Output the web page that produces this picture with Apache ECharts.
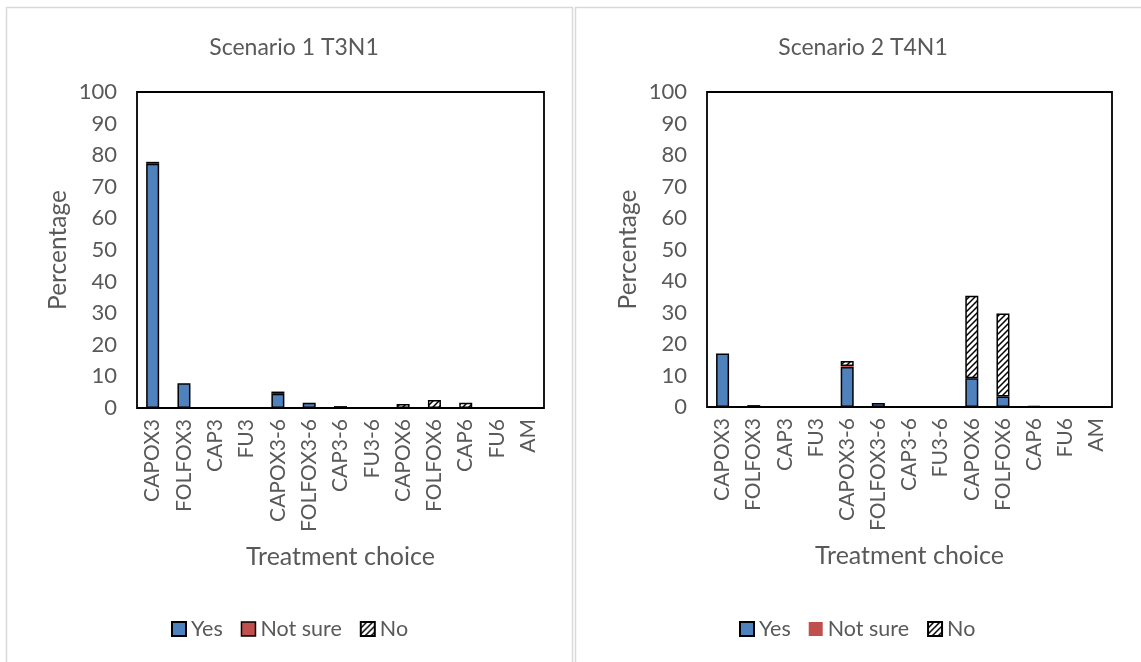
<!DOCTYPE html>
<html>
<head>
<meta charset="utf-8">
<script src="https://cdn.jsdelivr.net/npm/echarts@6/dist/echarts.min.js"></script>
<style>
  html, body { margin: 0; padding: 0; background: #fff; }
  #chart { width: 1141px; height: 662px; }
</style>
</head>
<body>
<div id="chart"></div>
<script>
// Treatment options on the category axis
const categories = ['CAPOX3', 'FOLFOX3', 'CAP3', 'FU3', 'CAPOX3-6', 'FOLFOX3-6', 'CAP3-6', 'FU3-6', 'CAPOX6', 'FOLFOX6', 'CAP6', 'FU6', 'AM'];

// Scenario 1 (T3N1) percentages
const s1Yes     = [77.3, 7.8, 0, 0, 4.5, 1.7, 0,   0, 0,   0,   0,   0, 0];
const s1NotSure = [0.6,  0,   0, 0, 0.7, 0,   0.6, 0, 0,   0,   0,   0, 0];
const s1No      = [0,    0,   0, 0, 0,   0,   0,   0, 1.3, 2.5, 1.7, 0, 0];

// Scenario 2 (T4N1) percentages
const s2Yes     = [17.0, 0.6, 0, 0, 12.7, 1.3, 0, 0, 9.1,  3.3,  0.3, 0, 0];
const s2NotSure = [0,    0,   0, 0, 0.3,  0,   0, 0, 0,    0,    0,   0, 0];
const s2No      = [0,    0,   0, 0, 1.6,  0,   0, 0, 26.2, 26.4, 0,   0, 0];

const seriesNames = ['Yes', 'Not sure', 'No'];
const titles = ['Scenario 1 T3N1', 'Scenario 2 T4N1'];
const yMin = 0, yMax = 100, yStep = 10;

const FONT = 'Lato, "Open Sans", sans-serif';
const GREY = '#595959';
const BLUE = '#4f81bd';
const RED = '#c0504d';

// White tile with black upward diagonal strokes
function hatchTile() {
  const c = document.createElement('canvas');
  c.width = 6; c.height = 6;
  const g = c.getContext('2d');
  g.fillStyle = '#fff';
  g.fillRect(0, 0, 6, 6);
  g.strokeStyle = '#000';
  g.lineWidth = 1.5;
  g.beginPath();
  g.moveTo(0, 6); g.lineTo(6, 0);
  g.moveTo(-1, 1); g.lineTo(1, -1);
  g.moveTo(5, 7); g.lineTo(7, 5);
  g.stroke();
  return c;
}
const hatch = { image: hatchTile(), repeat: 'repeat' };

const nz = arr => arr.map(v => (v > 0 ? v : null));

const grids = [
  { left: 137, right: 597, top: 92, bottom: 254 },
  { left: 707, right: 29, top: 92, bottom: 255 }
];

function axesFor(i) {
  return {
    x: {
      type: 'category', gridIndex: i, data: categories,
      axisLine: { show: false }, axisTick: { show: false },
      axisLabel: { interval: 0, rotate: 90, margin: 11, color: GREY, fontSize: 21, fontFamily: FONT },
      name: 'Treatment choice', nameLocation: 'middle', nameGap: 136,
      nameTextStyle: { color: GREY, fontSize: 25, fontFamily: FONT }
    },
    y: {
      type: 'value', gridIndex: i, min: yMin, max: yMax, interval: yStep,
      axisLine: { show: false }, axisTick: { show: false }, splitLine: { show: false },
      axisLabel: { color: GREY, fontSize: 22, fontFamily: FONT, margin: 20 },
      name: 'Percentage', nameLocation: 'middle', nameGap: 66,
      nameTextStyle: { color: GREY, fontSize: 24.5, fontFamily: FONT }
    }
  };
}
const a0 = axesFor(0), a1 = axesFor(1);

function barSeries(name, data, idx, color, border) {
  return {
    name, type: 'bar', stack: 'st' + idx, xAxisIndex: idx, yAxisIndex: idx,
    data: nz(data), barWidth: 13,
    itemStyle: { color, borderColor: '#000', borderWidth: border },
    emphasis: { disabled: true }
  };
}

const legendBase = {
  itemWidth: 14, itemHeight: 14, itemGap: 18, icon: 'rect',
  textStyle: { color: GREY, fontSize: 21.5, fontFamily: FONT },
  top: 613, selectedMode: false
};

const option = {
  animation: false,
  backgroundColor: '#fff',
  graphic: [
    { type: 'rect', shape: { x: 6.5, y: 7.5, width: 566, height: 660 }, style: { fill: 'none', stroke: '#d9d9d9', lineWidth: 1.5 } },
    { type: 'rect', shape: { x: 575.5, y: 7.5, width: 580, height: 660 }, style: { fill: 'none', stroke: '#d9d9d9', lineWidth: 1.5 } }
  ],
  title: [
    { text: titles[0], left: 289, top: 31, textAlign: 'center', textStyle: { color: GREY, fontSize: 23, fontWeight: 'normal', fontFamily: FONT } },
    { text: titles[1], left: 858, top: 31, textAlign: 'center', textStyle: { color: GREY, fontSize: 23, fontWeight: 'normal', fontFamily: FONT } }
  ],
  legend: [
    Object.assign({}, legendBase, {
      left: 166,
      data: [
        { name: 'Yes' },
        { name: 'Not sure', itemStyle: { color: RED, borderColor: '#000', borderWidth: 1.5 } },
        { name: 'No' }
      ]
    }),
    Object.assign({}, legendBase, {
      left: 734,
      data: [
        { name: 'Yes' },
        { name: 'Not sure', itemStyle: { color: RED, borderWidth: 0 } },
        { name: 'No' }
      ]
    })
  ],
  grid: grids.map(g => Object.assign({ show: true, borderColor: '#000', borderWidth: 1.8, backgroundColor: 'transparent' }, g)),
  xAxis: [a0.x, a1.x],
  yAxis: [a0.y, a1.y],
  series: [
    barSeries(seriesNames[0], s1Yes, 0, BLUE, 1.5),
    barSeries(seriesNames[1], s1NotSure, 0, RED, 1.5),
    barSeries(seriesNames[2], s1No, 0, hatch, 1.5),
    barSeries(seriesNames[0], s2Yes, 1, BLUE, 1.5),
    barSeries(seriesNames[1], s2NotSure, 1, RED, 0),
    barSeries(seriesNames[2], s2No, 1, hatch, 1.5)
  ]
};

const chart = echarts.init(document.getElementById('chart'), null, { renderer: 'canvas' });
chart.setOption(option);
</script>
</body>
</html>
